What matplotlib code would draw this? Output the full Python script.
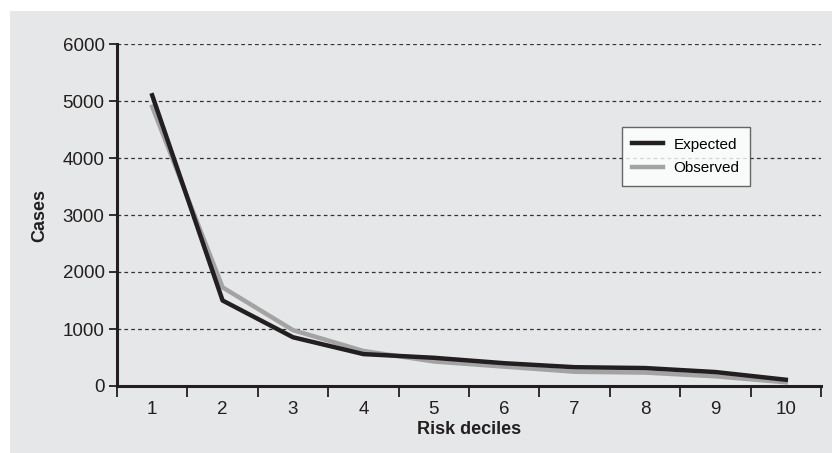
import numpy as np
import matplotlib.pyplot as plt
from matplotlib.patches import Rectangle

plt.rcParams['font.family'] = ['Liberation Sans Narrow', 'Liberation Sans', 'DejaVu Sans']

deciles = [1, 2, 3, 4, 5, 6, 7, 8, 9, 10]
expected = [5100, 1500, 855, 560, 495, 400, 330, 315, 245, 110]
observed = [4900, 1730, 980, 615, 430, 340, 250, 235, 170, 65]
yticks = [0, 1000, 2000, 3000, 4000, 5000, 6000]

fig = plt.figure(figsize=(8.32, 4.53), dpi=100)
fig.patch.set_facecolor('white')
# gray panel behind the chart
panel = Rectangle((10 / 832, 0), 1, 1 - 11 / 453, transform=fig.transFigure,
                  facecolor='#e6e7e8', edgecolor='none', zorder=-10)
fig.add_artist(panel)

ax = fig.add_axes([117 / 832, 1 - 386 / 453, (821 - 117) / 832, (386 - 44) / 453])
ax.set_facecolor('none')

ax.plot(deciles, observed, color='#a3a3a3', linewidth=3.2, label='Observed', zorder=3)
ax.plot(deciles, expected, color='#231f20', linewidth=3.2, label='Expected', zorder=4)

ax.set_xlim(0.5, 10.5)
ax.set_ylim(0, 6000)
ax.set_yticks(yticks)
for y in yticks[1:]:
    ax.axhline(y, color='#333333', linewidth=0.9, linestyle=(0, (3, 2.5)), zorder=1)

ax.set_xticks(deciles)
ax.set_xticks(np.arange(0.5, 11, 1), minor=True)
ax.tick_params(axis='x', which='major', length=0, labelsize=13.5, pad=11, colors='#231f20')
ax.tick_params(axis='x', which='minor', length=8, width=1.3, direction='out', color='#231f20')
ax.tick_params(axis='y', length=6, width=1.3, labelsize=13.5, pad=3, colors='#231f20')

for s in ['top', 'right']:
    ax.spines[s].set_visible(False)
for s in ['left', 'bottom']:
    ax.spines[s].set_linewidth(2.2)
    ax.spines[s].set_color('#231f20')

ax.set_xlabel('Risk deciles', fontsize=13, fontweight='bold', labelpad=2, color='#231f20')
ax.set_ylabel('Cases', fontsize=13, fontweight='bold', labelpad=10, color='#231f20')

handles, labels = ax.get_legend_handles_labels()
leg = ax.legend(handles[::-1], labels[::-1], loc='upper left', bbox_to_anchor=(0.717, 0.757),
                borderaxespad=0, fontsize=11, frameon=True, fancybox=False,
                edgecolor='#444444', handlelength=2.0, handletextpad=0.7,
                borderpad=0.7, labelspacing=0.6)
leg.get_frame().set_linewidth(1.0)

fig.savefig('out.png', dpi=100)
